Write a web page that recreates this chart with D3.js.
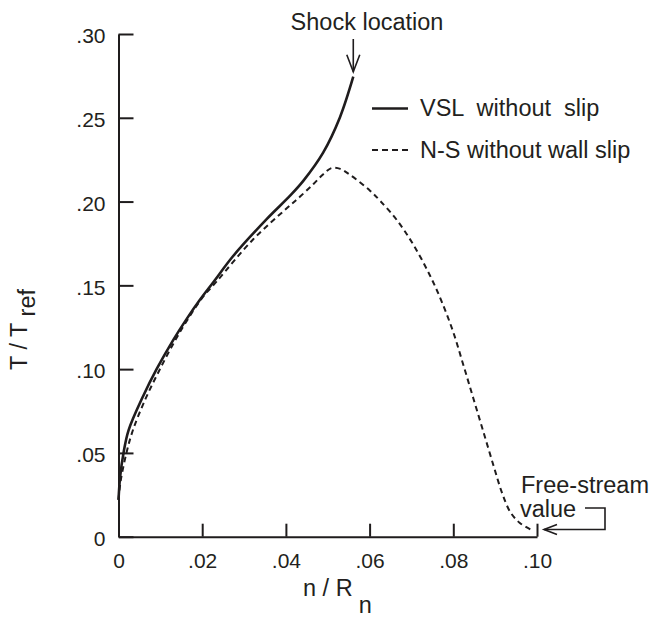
<!DOCTYPE html>
<html>
<head>
<meta charset="utf-8">
<script src="https://cdn.jsdelivr.net/npm/d3@7"></script>
<style>
  html, body { margin: 0; padding: 0; background: #fff; }
  svg { display: block; }
  text { font-family: "Liberation Sans", Arial, Helvetica, sans-serif; fill: #231f20; }
</style>
</head>
<body>
<script>
// Temperature profile across the shock layer, T / T_ref versus n / R_n.

// VSL solution (no slip), ends at the shock
const vslN = [0, 0.0004, 0.0012, 0.0024, 0.0059, 0.0091, 0.0131, 0.0163, 0.0195, 0.0227,
              0.0274, 0.0354, 0.0410, 0.0442, 0.0489, 0.0529, 0.0561];
const vslT = [0.022, 0.036, 0.050, 0.0635, 0.0840, 0.1000, 0.1175, 0.1300, 0.1415, 0.1520,
              0.1675, 0.1895, 0.2035, 0.2125, 0.2292, 0.2502, 0.2745];

// Navier-Stokes solution (no wall slip), relaxes to the free stream
const nsN = [0, 0.0005, 0.0019, 0.0035, 0.0065, 0.0098, 0.0135, 0.0165, 0.0200, 0.0235,
             0.0322, 0.0402, 0.0434, 0.0466, 0.0490, 0.0509, 0.0530, 0.0553, 0.0601, 0.0625,
             0.0665, 0.0704, 0.0744, 0.0772, 0.0800, 0.0824, 0.0848, 0.0872, 0.0896, 0.0916,
             0.0936, 0.0959, 0.0987];
const nsT = [0.022, 0.033, 0.050, 0.064, 0.0825, 0.0995, 0.1170, 0.1295, 0.1425, 0.1525,
             0.1775, 0.1960, 0.2030, 0.2105, 0.2165, 0.2200, 0.2195, 0.2160, 0.2065, 0.2005,
             0.1890, 0.1745, 0.1560, 0.1405, 0.1220, 0.1025, 0.0825, 0.0625, 0.0425, 0.0265,
             0.0148, 0.0082, 0.0040];

const xTicks = [0, 0.02, 0.04, 0.06, 0.08, 0.10];
const xTickLabels = ["0", ".02", ".04", ".06", ".08", ".10"];
const yTicks = [0, 0.05, 0.10, 0.15, 0.20, 0.25, 0.30];
const yTickLabels = ["0", ".05", ".10", ".15", ".20", ".25", ".30"];

const seriesNames = ["VSL  without  slip", "N-S without wall slip"];

const W = 652, H = 618;
const ink = "#1f1c1d";
const labelSize = "23.5px";

const svg = d3.select("body").append("svg")
  .attr("width", W).attr("height", H)
  .attr("viewBox", `0 0 ${W} ${H}`);

svg.append("rect").attr("width", W).attr("height", H).attr("fill", "#fff");

const x = d3.scaleLinear().domain([0, 0.1]).range([118.5, 537]);
const y = d3.scaleLinear().domain([0, 0.3]).range([536.7, 34]);

// Axes with inward ticks
const yAxis = d3.axisLeft(y)
  .tickValues(yTicks)
  .tickFormat((d, i) => yTickLabels[i])
  .tickSize(-15).tickSizeOuter(0).tickPadding(13);

const xAxis = d3.axisBottom(x)
  .tickValues(xTicks)
  .tickFormat((d, i) => xTickLabels[i])
  .tickSize(-13).tickSizeOuter(0).tickPadding(16);

const gy = svg.append("g").attr("transform", `translate(${x(0)},0)`).call(yAxis);
const gx = svg.append("g").attr("transform", `translate(0,${y(0)})`).call(xAxis);

[gx, gy].forEach(g => {
  g.select(".domain").attr("stroke", ink).attr("stroke-width", 2);
  g.selectAll(".tick line").attr("stroke", ink).attr("stroke-width", 2);
  g.selectAll(".tick text")
    .attr("fill", "#231f20")
    .style("font-family", "'Liberation Sans', Arial, sans-serif")
    .style("font-size", "21px");
});
gy.selectAll(".tick text").attr("dy", "0.42em");

// Curves
const line = d3.line()
  .x(d => x(d[0]))
  .y(d => y(d[1]))
  .curve(d3.curveCatmullRom.alpha(0.5));

const vsl = vslN.map((n, i) => [n, vslT[i]]);
const ns = nsN.map((n, i) => [n, nsT[i]]);

svg.append("path").datum(ns)
  .attr("d", line)
  .attr("fill", "none").attr("stroke", ink)
  .attr("stroke-width", 2).attr("stroke-dasharray", "5.5,4");

svg.append("path").datum(vsl)
  .attr("d", line)
  .attr("fill", "none").attr("stroke", ink)
  .attr("stroke-width", 2.6);

// Legend
const legend = svg.append("g");
legend.append("line")
  .attr("x1", 372).attr("x2", 408).attr("y1", 108.5).attr("y2", 108.5)
  .attr("stroke", ink).attr("stroke-width", 2.6);
legend.append("text").attr("x", 420).attr("y", 116)
  .style("font-size", labelSize).style("white-space", "pre")
  .attr("xml:space", "preserve")
  .text(seriesNames[0]);
legend.append("line")
  .attr("x1", 372).attr("x2", 408).attr("y1", 150).attr("y2", 150)
  .attr("stroke", ink).attr("stroke-width", 2).attr("stroke-dasharray", "6,4");
legend.append("text").attr("x", 420).attr("y", 157.5)
  .style("font-size", labelSize)
  .text(seriesNames[1]);

// Shock location annotation
const shock = vsl[vsl.length - 1];
const sx = x(shock[0]);
svg.append("text").attr("x", 367).attr("y", 29.5)
  .attr("text-anchor", "middle").style("font-size", labelSize)
  .text("Shock location");
svg.append("line")
  .attr("x1", sx).attr("x2", sx).attr("y1", 39).attr("y2", y(shock[1]) - 5)
  .attr("stroke", ink).attr("stroke-width", 1.6);
svg.append("path")
  .attr("d", `M${sx - 6.5},${y(shock[1]) - 22} L${sx},${y(shock[1]) - 5} L${sx + 6.5},${y(shock[1]) - 22}`)
  .attr("fill", "none").attr("stroke", ink).attr("stroke-width", 1.6);

// Free-stream annotation
const fs = ns[ns.length - 1];
const fx = x(0.1) + 7, fy = y(fs[1]) - 0.5;
svg.append("text").attr("x", 521).attr("y", 492.5)
  .style("font-size", labelSize).text("Free-stream");
svg.append("text").attr("x", 520).attr("y", 516.5)
  .style("font-size", labelSize).text("value");
svg.append("path")
  .attr("d", `M585,508 H605 V${fy} H${fx}`)
  .attr("fill", "none").attr("stroke", ink).attr("stroke-width", 1.6);
svg.append("path")
  .attr("d", `M${fx + 13},${fy - 5} L${fx},${fy} L${fx + 13},${fy + 5}`)
  .attr("fill", "none").attr("stroke", ink).attr("stroke-width", 1.6);

// Axis titles
const yTitle = svg.append("text")
  .attr("transform", "translate(27,370) rotate(-90)")
  .style("font-size", labelSize);
yTitle.append("tspan").text("T / T");
yTitle.append("tspan").attr("dx", 7).attr("dy", 8).text("ref");

const xTitle = svg.append("text")
  .attr("x", 303).attr("y", 596)
  .style("font-size", labelSize);
xTitle.append("tspan").text("n / R");
xTitle.append("tspan").attr("dx", 6).attr("dy", 17).text("n");
</script>
</body>
</html>
